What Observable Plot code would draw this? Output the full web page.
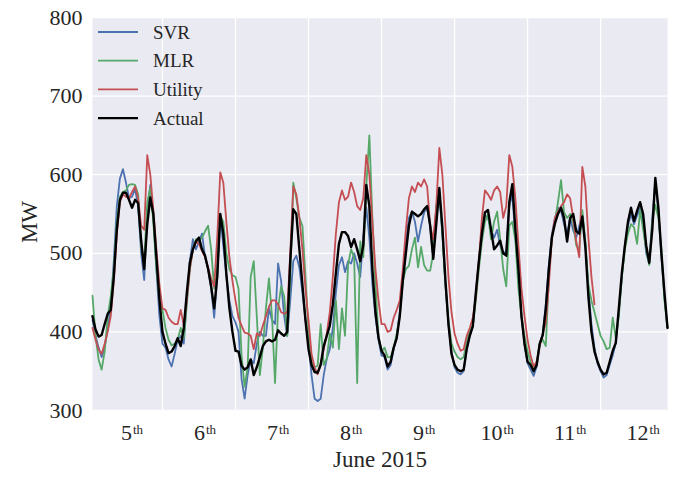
<!DOCTYPE html>
<html><head><meta charset="utf-8">
<script src="https://cdn.jsdelivr.net/npm/d3@7"></script>
<script src="https://cdn.jsdelivr.net/npm/@observablehq/plot@0.6"></script>
<style>html,body{margin:0;padding:0;background:#fff;}#chart{width:675px;height:477px;}</style>
</head><body><div id="chart"></div>
<script>
// Series names, colours (seaborn "deep") and line widths
const seriesNames = ["SVR", "MLR", "Utility", "Actual"];
const seriesColors = ["#4C72B0", "#55A868", "#C44E52", "#000000"];
const seriesWidths = [1.8, 1.8, 1.8, 2.4];

// Hourly load (MW), first value at hour 1 (hours counted from 4 June 00:00)
const firstHour = 1;
const svr = [
  415,395,380,368,380,405,430,490,560,595,607,590,570,572,582,560,500,466,555,587,545,480,420,385,
  380,365,356,372,390,395,385,440,490,518,505,515,525,495,480,455,418,470,545,510,470,440,420,412,
  400,340,315,345,365,360,385,400,395,395,430,415,410,487,465,420,395,440,490,497,482,450,415,385,
  345,315,312,315,345,366,378,405,450,485,495,476,490,487,500,487,470,520,558,520,460,420,390,370,
  368,352,358,378,395,425,470,515,545,553,540,515,535,552,558,535,495,560,575,525,460,410,375,355,
  348,346,350,378,395,407,448,490,530,548,545,530,520,530,510,499,503,560,575,520,470,420,385,360,
  352,344,356,385,398,435,485,524,545,558,554,537,525,545,529,520,535,550,512,455,410,380,360,350,
  342,345,358,370,386,425,470,510,535,550,537,548,558,540,500,487,545,590,555,495,445,405
];
const mlr = [
  446,395,365,352,375,420,445,480,540,572,578,580,587,588,587,575,508,490,565,583,540,480,440,428,
  405,390,383,385,390,405,392,435,480,505,518,516,520,528,535,505,455,480,548,540,500,480,472,470,
  455,370,330,355,470,490,420,345,380,430,468,420,335,430,458,445,395,470,590,570,545,535,470,400,
  360,355,357,410,358,366,398,380,440,378,430,395,485,505,495,335,515,495,585,650,545,460,395,375,
  380,368,368,380,398,420,465,480,484,505,520,482,508,485,478,478,500,560,579,525,460,415,385,375,
  368,365,368,388,400,408,440,480,515,540,550,518,540,553,518,480,458,535,540,516,455,420,395,375,
  362,352,362,385,390,382,470,520,540,565,593,552,545,550,540,510,505,555,516,460,440,425,410,395,
  388,378,380,418,392,420,470,505,525,537,533,512,555,530,505,485,540,562,545,505,440,405
];
const utility = [
  405,390,378,372,385,400,420,465,525,565,575,572,570,578,585,570,535,530,625,600,555,505,460,430,
  428,418,413,410,410,428,408,440,480,505,515,512,503,495,482,468,458,520,603,590,540,495,465,440,
  418,408,399,398,395,378,398,395,408,420,432,440,440,435,425,423,425,500,585,575,545,505,455,415,
  372,355,346,360,378,398,425,470,525,565,580,568,572,590,578,560,555,570,625,600,540,480,440,410,
  410,400,402,418,428,440,480,530,570,585,578,590,585,594,585,535,518,560,634,600,535,470,425,398,
  385,376,378,395,405,418,445,490,545,580,575,568,580,585,578,545,560,625,610,570,510,455,420,390,
  370,356,362,382,398,412,460,520,545,553,560,565,575,570,545,515,495,610,585,520,470,435
];
const actual = [
  420,403,394,396,410,423,428,470,530,568,577,577,568,558,568,564,516,480,537,571,550,495,441,400,
  385,373,375,382,392,382,405,450,488,505,515,520,505,497,480,458,430,470,550,525,474,430,400,376,
  375,357,352,355,365,345,355,368,382,388,390,388,390,402,398,395,400,490,556,550,505,460,415,378,
  358,349,348,358,382,395,408,435,475,512,527,527,522,508,518,505,490,510,587,560,480,425,393,376,
  370,356,362,380,392,420,465,500,535,553,550,547,550,556,560,535,493,537,583,533,466,410,372,358,
  352,350,352,378,395,407,450,490,525,552,555,530,505,510,516,500,497,565,588,530,480,420,385,362,
  358,350,358,385,396,430,480,520,538,550,558,545,515,545,550,528,525,547,508,445,400,375,362,352,
  346,348,362,376,386,430,475,510,540,558,541,554,565,550,510,488,530,596,558,500,450,405
];

// Axis texts and ticks
const dayLabels = ["5", "6", "7", "8", "9", "10", "11", "12"];
const daySuffix = "th";
const dayBoundaryHours = [24, 48, 72, 96, 120, 144, 168];
const yTicks = [300, 400, 500, 600, 700, 800];
const xTitle = "June 2015";
const yTitle = "MW";

const labelHours = dayLabels.map((d, i) => 24 * i + 14);
const allSeries = [svr, mlr, utility, actual];
const rows = allSeries.map((vals, s) => vals.map((v, i) => ({hour: firstHour + i, value: v, series: seriesNames[s]})));

const FONT = "Liberation Serif";
const chart = Plot.plot({
  width: 675, height: 477,
  marginLeft: 92, marginRight: 8, marginTop: 17, marginBottom: 67,
  style: {background: "white", fontFamily: FONT, color: "#262626"},
  x: {domain: [1, 190], label: null},
  y: {domain: [300, 800], label: null},
  marks: [
    Plot.frame({fill: "#EAEAF2", stroke: "none"}),
    Plot.gridY(yTicks, {stroke: "white", strokeOpacity: 1, strokeWidth: 1.3}),
    Plot.gridX(dayBoundaryHours, {stroke: "white", strokeOpacity: 1, strokeWidth: 1.3}),
    Plot.axisY(yTicks, {tickSize: 0, tickPadding: 10, fontSize: 22, label: null}),
    Plot.axisX(labelHours, {tickSize: 0, tickPadding: 14, fontSize: 22, label: null,
      tickFormat: d => dayLabels[labelHours.indexOf(d)]}),
    ...rows.map((r, s) => Plot.line(r, {x: "hour", y: "value", stroke: seriesColors[s], strokeWidth: seriesWidths[s]}))
  ]
});
document.getElementById("chart").appendChild(chart);

const svg = d3.select(chart);
// superscript suffix on day labels
svg.selectAll('g[aria-label="x-axis tick label"] text').each(function() {
  const t = d3.select(this);
  const s = t.text();
  t.text(null);
  t.append("tspan").text(s);
  t.append("tspan").attr("font-size", 13).attr("dx", 1).attr("dy", -6).text(daySuffix);
});

// axis titles
svg.append("text").attr("x", 380).attr("y", 467).attr("text-anchor", "middle")
  .attr("font-family", FONT).attr("font-size", 23).attr("fill", "#262626").text(xTitle);
svg.append("text").attr("transform", "translate(37,222) rotate(-90)").attr("text-anchor", "middle")
  .attr("font-family", FONT).attr("font-size", 23).attr("fill", "#262626").text(yTitle);

// legend
const lg = svg.append("g").attr("font-family", FONT).attr("font-size", 19).attr("fill", "#262626")
  .attr("text-anchor", "start");
seriesNames.forEach((name, i) => {
  const y = 32 + i * 28.7;
  lg.append("line").attr("x1", 98).attr("x2", 138).attr("y1", y).attr("y2", y)
    .attr("stroke", seriesColors[i]).attr("stroke-width", seriesWidths[i]);
  lg.append("text").attr("x", 153).attr("y", y).attr("dy", "0.35em").attr("text-anchor", "start").text(name);
});
</script>
</body></html>
